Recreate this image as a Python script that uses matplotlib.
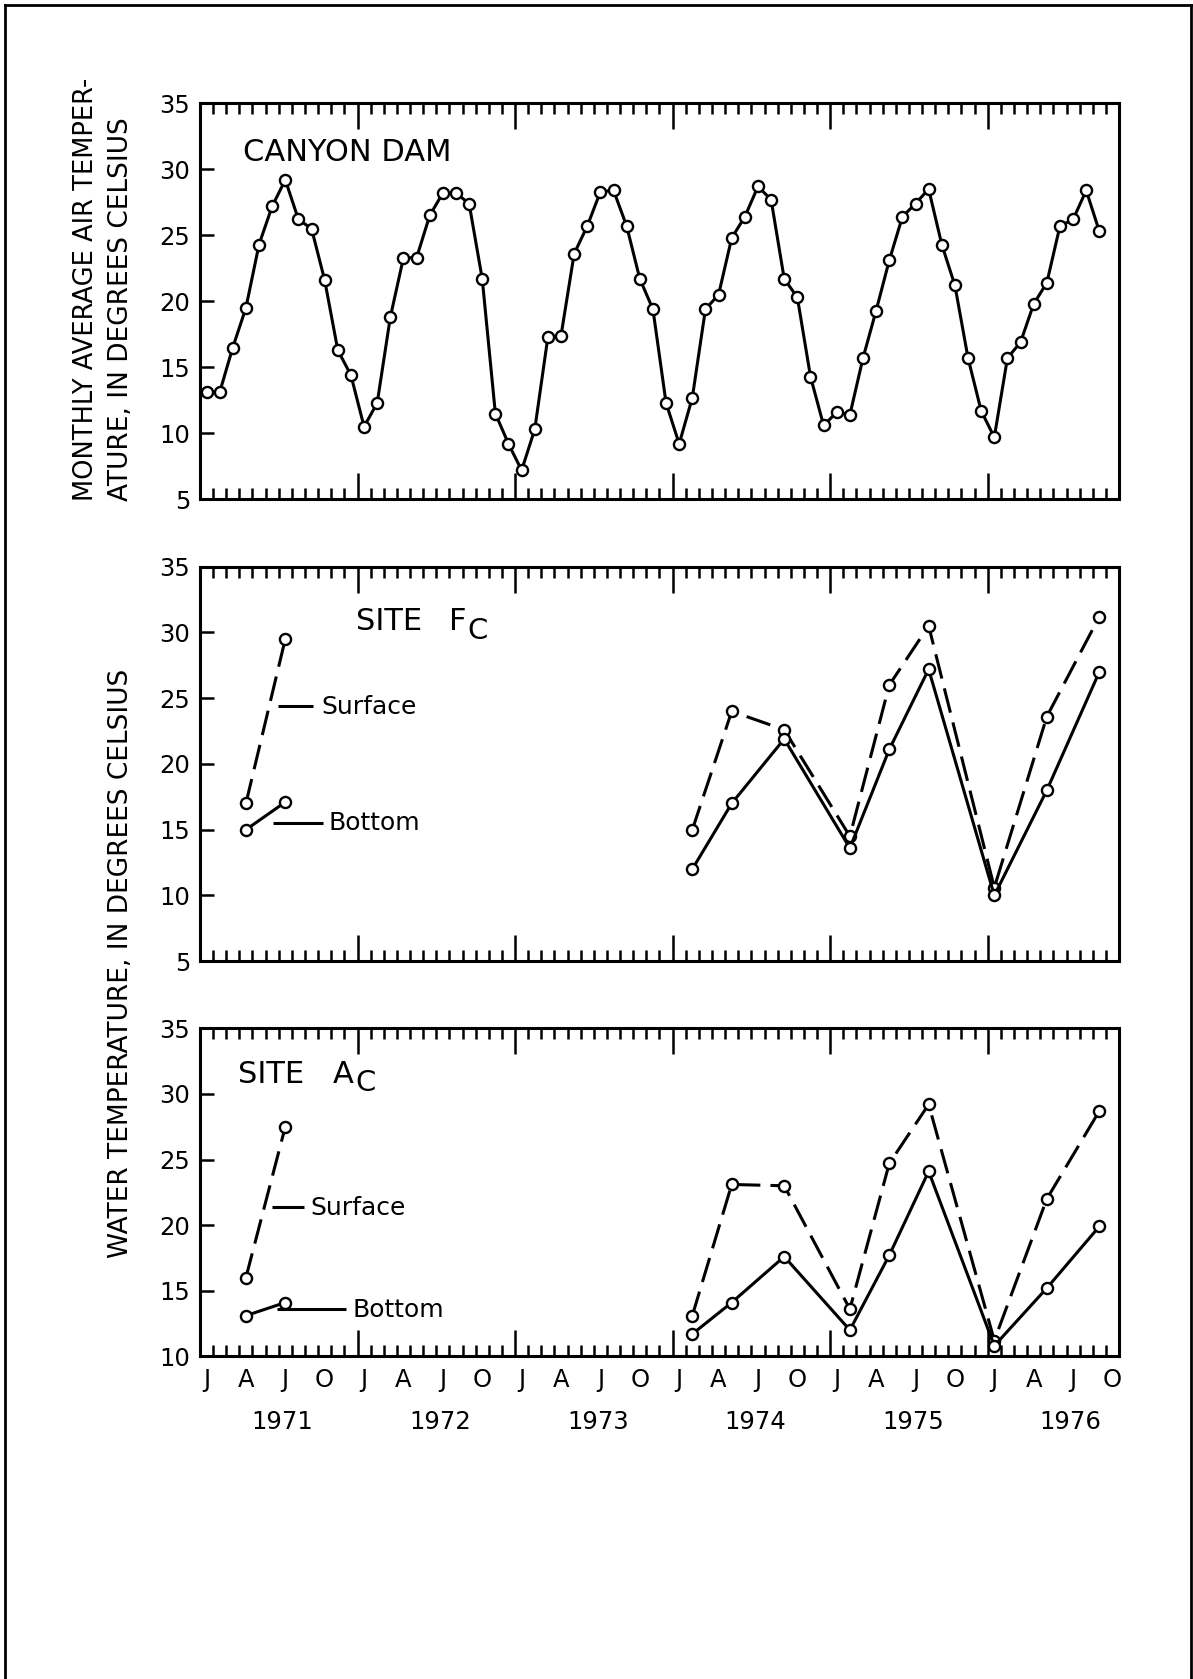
import matplotlib
matplotlib.use('Agg')
import matplotlib.pyplot as plt
from matplotlib.lines import Line2D
import matplotlib.transforms as mtransforms

plt.rcParams['font.family'] = ['DejaVu Sans']

# ---------------- data ----------------
years = [1971, 1972, 1973, 1974, 1975, 1976]
month_letters = ['J', 'A', 'J', 'O']

# Canyon Dam monthly average air temperature, Jan 1971 .. Sep 1976
air_1971 = [13.1, 13.1, 16.5, 19.5, 24.3, 27.2, 29.2, 26.2, 25.5, 21.6, 16.3, 14.4]
air_1972 = [10.5, 12.3, 18.8, 23.3, 23.3, 26.5, 28.2, 28.2, 27.4, 21.7, 11.5, 9.2]
air_1973 = [7.2, 10.3, 17.3, 17.4, 23.6, 25.7, 28.3, 28.4, 25.7, 21.7, 19.4, 12.3]
air_1974 = [9.2, 12.7, 19.4, 20.5, 24.8, 26.4, 28.7, 27.7, 21.7, 20.3, 14.3, 10.6]
air_1975 = [11.6, 11.4, 15.7, 19.3, 23.1, 26.4, 27.4, 28.5, 24.3, 21.2, 15.7, 11.7]
air_1976 = [9.7, 15.7, 16.9, 19.8, 21.4, 25.7, 26.2, 28.4, 25.3]

# sampling dates for the water-temperature sites
dates_early = ['1971-04', '1971-07']
dates_late = ['1974-02', '1974-05', '1974-09', '1975-02', '1975-05',
              '1975-08', '1976-01', '1976-05', '1976-09']

fc_surface_early = [17.0, 29.5]
fc_bottom_early = [15.0, 17.1]
fc_surface_late = [15.0, 24.0, 22.6, 14.5, 26.0, 30.5, 10.6, 23.6, 31.2]
fc_bottom_late = [12.0, 17.0, 21.9, 13.6, 21.1, 27.2, 10.0, 18.0, 27.0]

ac_surface_early = [16.0, 27.5]
ac_bottom_early = [13.1, 14.1]
ac_surface_late = [13.1, 23.1, 23.0, 13.6, 24.7, 29.2, 11.2, 22.0, 28.7]
ac_bottom_late = [11.7, 14.1, 17.6, 12.0, 17.7, 24.1, 10.8, 15.2, 19.9]


def month_pos(d):
    y, m = d.split('-')
    return (int(y) - years[0]) * 12 + int(m) - 1 + 0.5


air_temp = air_1971 + air_1972 + air_1973 + air_1974 + air_1975 + air_1976
air_x = [i + 0.5 for i in range(len(air_temp))]
x_early = [month_pos(d) for d in dates_early]
x_late = [month_pos(d) for d in dates_late]

# ---------------- figure ----------------
fig = plt.figure(figsize=(11.93, 16.79), dpi=100)

L, W = 0.1676, 0.7704
ax1 = fig.add_axes([L, 0.7026, W, 0.2359])
ax2 = fig.add_axes([L, 0.4275, W, 0.2350])
ax3 = fig.add_axes([L, 0.1922, W, 0.1953])

LW = 2.2
mk = dict(marker='o', ms=8, mfc='white', mec='black', mew=1.7, color='black')


def style(ax, ymin):
    ax.set_xlim(0, 70)
    ax.set_ylim(ymin, 35)
    for s in ax.spines.values():
        s.set_linewidth(LW)
    ax.set_xticks(range(0, 71, 12))
    ax.set_xticks(range(0, 71), minor=True)
    ax.tick_params(axis='x', which='major', direction='in', top=True, bottom=True,
                   length=18.5, width=1.8, labelbottom=False)
    ax.tick_params(axis='x', which='minor', direction='in', top=True, bottom=True,
                   length=8, width=1.8)
    ax.set_yticks(range(ymin, 36, 5))
    ax.tick_params(axis='y', direction='in', left=True, right=False, length=10,
                   width=1.8, labelsize=17.5, pad=7)


style(ax1, 5)
style(ax2, 5)
style(ax3, 10)

# top panel
ax1.plot(air_x, air_temp, lw=LW, **mk)
ax1.text(3.25, 30.6, 'CANYON DAM', fontsize=22, va='baseline', ha='left')

dash = (8.2, 3.3)


def site(ax, se, be, sl, bl):
    ax.plot(x_early, se, lw=LW, dashes=dash, **mk)
    ax.plot(x_late, sl, lw=LW, dashes=dash, **mk)
    ax.plot(x_early, be, lw=LW, **mk)
    ax.plot(x_late, bl, lw=LW, **mk)


site(ax2, fc_surface_early, fc_bottom_early, fc_surface_late, fc_bottom_late)
site(ax3, ac_surface_early, ac_bottom_early, ac_surface_late, ac_bottom_late)

# site titles
ax2.text(11.9, 30.2, 'SITE', fontsize=22, va='baseline', ha='left')
ax2.text(19.0, 30.2, 'F', fontsize=22, va='baseline', ha='left')
ax2.text(20.4, 29.5, 'C', fontsize=21, va='baseline', ha='left')
ax3.text(2.9, 30.8, 'SITE', fontsize=22, va='baseline', ha='left')
ax3.text(10.1, 30.8, 'A', fontsize=22, va='baseline', ha='left')
ax3.text(11.8, 30.2, 'C', fontsize=21, va='baseline', ha='left')

# inline legends
ax2.plot([5.97, 8.63], [24.4, 24.4], color='black', lw=LW, solid_capstyle='butt')
ax2.text(9.27, 24.35, 'Surface', fontsize=18, va='center', ha='left')
ax2.plot([5.59, 9.4], [15.5, 15.5], color='black', lw=LW, solid_capstyle='butt')
ax2.text(9.78, 15.5, 'Bottom', fontsize=18, va='center', ha='left')
ax3.plot([5.46, 7.92], [21.35, 21.35], color='black', lw=LW, solid_capstyle='butt')
ax3.text(8.38, 21.3, 'Surface', fontsize=18, va='center', ha='left')
ax3.plot([5.84, 11.1], [13.6, 13.6], color='black', lw=LW, solid_capstyle='butt')
ax3.text(11.63, 13.55, 'Bottom', fontsize=18, va='center', ha='left')

# x labels (months + years) below bottom panel
trans = mtransforms.blended_transform_factory(ax3.transData, ax3.transAxes)
for yi, yr in enumerate(years):
    for q, letter in enumerate(month_letters):
        ax3.text(yi * 12 + q * 3 + 0.5, -0.072, letter, transform=trans,
                 ha='center', va='center', fontsize=17.5)
    ax3.text(yi * 12 + 6.3, -0.2, str(yr), transform=trans,
             ha='center', va='center', fontsize=17.5)

# y axis labels
fig.text(0.072, 0.7016, 'MONTHLY AVERAGE AIR TEMPER-', rotation=90,
         ha='center', va='bottom', fontsize=18.5)
fig.text(0.1017, 0.7016, 'ATURE, IN DEGREES CELSIUS', rotation=90,
         ha='center', va='bottom', fontsize=19)
fig.text(0.1017, 0.4264, 'WATER TEMPERATURE, IN DEGREES CELSIUS', rotation=90,
         ha='center', va='center', fontsize=19)

# outer frame
for xs, ys in [([0.0045, 0.0045], [0.0, 0.9968]),
               ([0.0045, 0.998], [0.9968, 0.9968]),
               ([0.998, 0.998], [0.9968, 0.0])]:
    fig.add_artist(Line2D(xs, ys, transform=fig.transFigure, color='black', lw=2))

fig.savefig('out.png', dpi=100, facecolor='white')
